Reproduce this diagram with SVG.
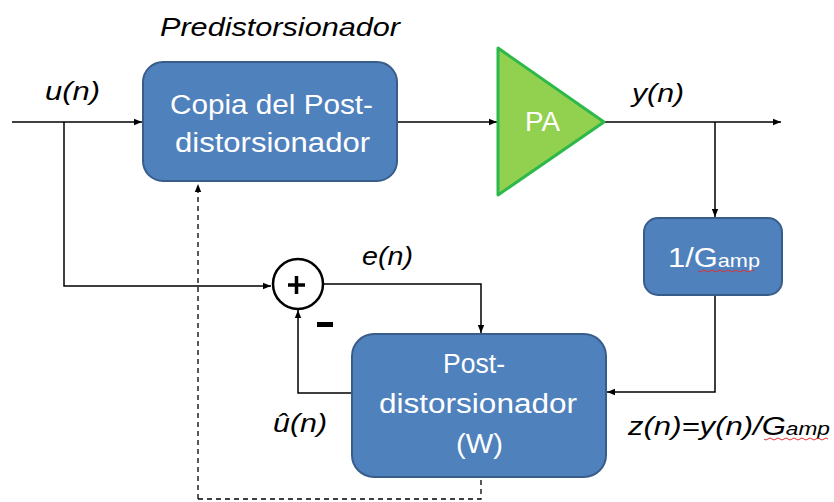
<svg xmlns="http://www.w3.org/2000/svg" width="834" height="502" viewBox="0 0 834 502">
<defs>
<style>
.box{fill:#4F81BD;stroke:#385D8A;stroke-width:2}
.bt{font-family:"Liberation Sans",Arial,sans-serif;fill:#fff;font-size:27px}
.lbl{font-family:"Liberation Sans",Arial,sans-serif;font-style:italic;fill:#000;font-size:26px}
.ln{fill:none;stroke:#000;stroke-width:1.5}
.dash{fill:none;stroke:#000;stroke-width:1.3;stroke-dasharray:5,4}
.sq{fill:none;stroke:#E03030;stroke-width:1}
</style>
<marker id="ah" viewBox="0 0 10 10" refX="10" refY="5" markerWidth="8" markerHeight="8" orient="auto" markerUnits="userSpaceOnUse">
<path d="M0,1 L10,5 L0,9 Z" fill="#000"/>
</marker>
</defs>
<rect width="834" height="502" fill="#fff"/>
<g id="connectors">
<path class="ln" d="M12,122 H142" marker-end="url(#ah)"/>
<path class="ln" d="M64,122 V286 H271" marker-end="url(#ah)"/>
<path class="ln" d="M398,122 H497" marker-end="url(#ah)"/>
<path class="ln" d="M604,122 H781" marker-end="url(#ah)"/>
<path class="ln" d="M715,122 V217" marker-end="url(#ah)"/>
<path class="ln" d="M715,295 V392 H607" marker-end="url(#ah)"/>
<path class="ln" d="M324,284 H481 V333" marker-end="url(#ah)"/>
<path class="ln" d="M352,393 H298 V310" marker-end="url(#ah)"/>
<path class="dash" d="M198,499 V184" marker-end="url(#ah)"/>
<path class="dash" d="M198,499 H481 V478" stroke="#555"/>
</g>
<g id="predistorsionador">
<rect class="box" x="143" y="62" width="254" height="119" rx="20"/>
<text class="bt" x="170" y="114" textLength="203" lengthAdjust="spacingAndGlyphs">Copia del Post-</text>
<text class="bt" x="175" y="152" textLength="195" lengthAdjust="spacingAndGlyphs">distorsionador</text>
</g>
<g id="pa">
<polygon points="498,48 604,122 498,195" fill="#92D050" stroke="#2DB84A" stroke-width="3" stroke-linejoin="round"/>
<text class="bt" x="525" y="131" textLength="35" lengthAdjust="spacingAndGlyphs">PA</text>
</g>
<g id="gamp">
<rect class="box" x="644" y="218" width="138" height="77" rx="14"/>
<text class="bt" x="668" y="267" textLength="92" lengthAdjust="spacingAndGlyphs"><tspan>1/G</tspan><tspan style="font-size:19px">amp</tspan></text>
<path class="sq" d="M698,271 q2,2 4,0 t4,0 t4,0 t4,0 t4,0 t4,0 t4,0 t4,0 t4,0 t4,0 t4,0 t4,0 t4,0 t4,0"/>
</g>
<g id="sum">
<circle cx="298" cy="284" r="25" fill="#fff" stroke="#000" stroke-width="2.5"/>
<path d="M288,285 H305 M296.5,276 V294" stroke="#000" stroke-width="3.5" fill="none"/>
<rect x="317" y="322" width="16" height="5" fill="#000"/>
</g>
<g id="postdistorsionador">
<rect class="box" x="352" y="334" width="254" height="143" rx="22"/>
<text class="bt" x="443" y="373" textLength="62" lengthAdjust="spacingAndGlyphs">Post-</text>
<text class="bt" x="379" y="413" textLength="198" lengthAdjust="spacingAndGlyphs">distorsionador</text>
<text class="bt" x="456" y="453" textLength="47" lengthAdjust="spacingAndGlyphs">(W)</text>
</g>
<g id="labels">
<text class="lbl" x="160" y="36" textLength="240" lengthAdjust="spacingAndGlyphs">Predistorsionador</text>
<text class="lbl" x="45" y="100" textLength="55" lengthAdjust="spacingAndGlyphs">u(n)</text>
<text class="lbl" x="632" y="102" textLength="52" lengthAdjust="spacingAndGlyphs">y(n)</text>
<text class="lbl" x="362" y="265" textLength="51" lengthAdjust="spacingAndGlyphs">e(n)</text>
<text class="lbl" x="273" y="432" textLength="54" lengthAdjust="spacingAndGlyphs">û(n)</text>
<text class="lbl" x="628" y="435" textLength="202" lengthAdjust="spacingAndGlyphs"><tspan>z(n)=y(n)/G</tspan><tspan style="font-size:19px">amp</tspan></text>
<path class="sq" d="M764,439 q2,2 4,0 t4,0 t4,0 t4,0 t4,0 t4,0 t4,0 t4,0 t4,0 t4,0 t4,0 t4,0 t4,0 t4,0 t4,0 t4,0"/>
</g>
</svg>
